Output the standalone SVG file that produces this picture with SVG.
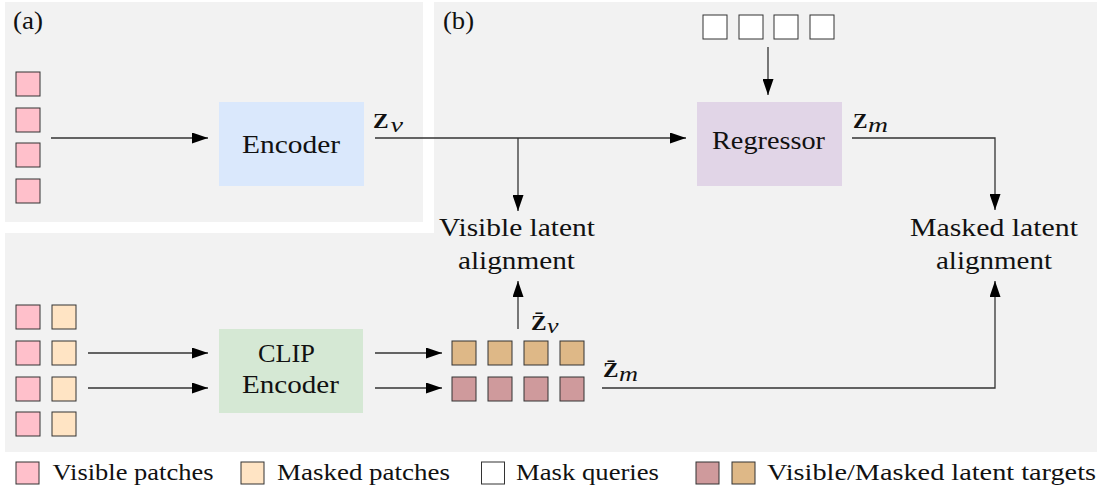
<svg xmlns="http://www.w3.org/2000/svg" width="1097" height="486" viewBox="0 0 1097 486">
  <defs>
    <style>
      .panel { fill: #f2f2f2; }
      .patch { stroke: #333333; stroke-width: 1; }
      .vis { fill: #ffc0cb; }
      .msk { fill: #ffe4c4; }
      .qry { fill: #ffffff; }
      .tgt-v { fill: #deb887; }
      .tgt-m { fill: #cf9a9c; }
      .wire { fill: none; stroke: #333333; stroke-width: 1.3; }
      .txt { font-family: "Liberation Serif", "Times New Roman", serif; font-size: 25px; fill: #111111; }
      .leg { font-family: "Liberation Serif", "Times New Roman", serif; font-size: 23px; fill: #111111; }
      .mz { font-family: "Liberation Serif", "Times New Roman", serif; font-size: 20px; font-weight: bold; fill: #111111; }
      .ms { font-family: "Liberation Serif", "Times New Roman", serif; font-size: 20px; font-style: italic; fill: #111111; }
    </style>
    <marker id="arrow" markerUnits="userSpaceOnUse" markerWidth="16" markerHeight="11" refX="16" refY="5.5" orient="auto">
      <path d="M0,0 L16,5.5 L0,11 Z" fill="#000000"/>
    </marker>
  </defs>

  <!-- background panels -->
  <g id="panels">
    <rect class="panel" x="5" y="2" width="418" height="220"/>
    <path class="panel" d="M434,2 H1097 V452 H5 V233 H434 Z"/>
    <text class="txt" x="13" y="29" textLength="30" lengthAdjust="spacingAndGlyphs">(a)</text>
    <text class="txt" x="443" y="29" textLength="31" lengthAdjust="spacingAndGlyphs">(b)</text>
  </g>

  <!-- visible input patches of the student branch -->
  <g id="visible-patches">
    <rect class="patch vis" x="16" y="72" width="24" height="24"/>
    <rect class="patch vis" x="16" y="108" width="24" height="24"/>
    <rect class="patch vis" x="16" y="143" width="24" height="24"/>
    <rect class="patch vis" x="16" y="179" width="24" height="24"/>
  </g>

  <g id="encoder">
    <rect x="219" y="102" width="145" height="84" fill="#dae8fc"/>
    <text class="txt" x="242" y="153" textLength="98" lengthAdjust="spacingAndGlyphs">Encoder</text>
  </g>

  <g id="mask-queries">
    <rect class="patch qry" x="703" y="15" width="24" height="24"/>
    <rect class="patch qry" x="739" y="15" width="24" height="24"/>
    <rect class="patch qry" x="774" y="15" width="24" height="24"/>
    <rect class="patch qry" x="810" y="15" width="24" height="24"/>
  </g>

  <g id="regressor">
    <rect x="697" y="102" width="145" height="84" fill="#e1d5e7"/>
    <text class="txt" x="712" y="149" textLength="113" lengthAdjust="spacingAndGlyphs">Regressor</text>
  </g>

  <g id="visible-alignment">
    <text class="txt" x="439" y="236" textLength="156" lengthAdjust="spacingAndGlyphs">Visible latent</text>
    <text class="txt" x="458" y="269" textLength="117" lengthAdjust="spacingAndGlyphs">alignment</text>
  </g>

  <g id="masked-alignment">
    <text class="txt" x="910" y="236" textLength="168" lengthAdjust="spacingAndGlyphs">Masked latent</text>
    <text class="txt" x="936" y="269" textLength="116" lengthAdjust="spacingAndGlyphs">alignment</text>
  </g>

  <!-- full image patches of the teacher branch -->
  <g id="all-patches">
    <rect class="patch vis" x="16" y="305" width="24" height="24"/>
    <rect class="patch vis" x="16" y="341" width="24" height="24"/>
    <rect class="patch vis" x="16" y="377" width="24" height="24"/>
    <rect class="patch vis" x="16" y="412" width="24" height="24"/>
    <rect class="patch msk" x="52" y="305" width="24" height="24"/>
    <rect class="patch msk" x="52" y="341" width="24" height="24"/>
    <rect class="patch msk" x="52" y="377" width="24" height="24"/>
    <rect class="patch msk" x="52" y="412" width="24" height="24"/>
  </g>

  <g id="clip-encoder">
    <rect x="219" y="329" width="144" height="84" fill="#d5e8d4"/>
    <text class="txt" x="258" y="362" textLength="57" lengthAdjust="spacingAndGlyphs">CLIP</text>
    <text class="txt" x="242" y="393" textLength="97" lengthAdjust="spacingAndGlyphs">Encoder</text>
  </g>

  <g id="latent-targets">
    <rect class="patch tgt-v" x="452" y="341" width="24" height="24"/>
    <rect class="patch tgt-v" x="488" y="341" width="24" height="24"/>
    <rect class="patch tgt-v" x="524" y="341" width="24" height="24"/>
    <rect class="patch tgt-v" x="560" y="341" width="24" height="24"/>
    <rect class="patch tgt-m" x="452" y="377" width="24" height="24"/>
    <rect class="patch tgt-m" x="488" y="377" width="24" height="24"/>
    <rect class="patch tgt-m" x="524" y="377" width="24" height="24"/>
    <rect class="patch tgt-m" x="560" y="377" width="24" height="24"/>
  </g>

  <!-- connectors -->
  <g id="connectors">
    <path class="wire" d="M51,138 H208" marker-end="url(#arrow)"/>
    <path class="wire" d="M375,138 H686" marker-end="url(#arrow)"/>
    <path class="wire" d="M518,138 V211" marker-end="url(#arrow)"/>
    <path class="wire" d="M768,47 V95" marker-end="url(#arrow)"/>
    <path class="wire" d="M852,138 H995 V210" marker-end="url(#arrow)"/>
    <path class="wire" d="M518,329 V281" marker-end="url(#arrow)"/>
    <path class="wire" d="M602,388 H995 V281" marker-end="url(#arrow)"/>
    <path class="wire" d="M88,353 H208" marker-end="url(#arrow)"/>
    <path class="wire" d="M88,388 H208" marker-end="url(#arrow)"/>
    <path class="wire" d="M375,353 H442" marker-end="url(#arrow)"/>
    <path class="wire" d="M375,388 H442" marker-end="url(#arrow)"/>
  </g>

  <!-- connector labels -->
  <g id="labels">
    <text class="mz" x="373" y="128" textLength="15.6" lengthAdjust="spacingAndGlyphs">Z</text>
    <text class="ms" x="390.5" y="132" textLength="12.5" lengthAdjust="spacingAndGlyphs">v</text>
    <text class="mz" x="853" y="128" textLength="14.5" lengthAdjust="spacingAndGlyphs">Z</text>
    <text class="ms" x="868" y="131.5" textLength="20" lengthAdjust="spacingAndGlyphs">m</text>
    <text class="mz" x="531" y="329.5" textLength="15.6" lengthAdjust="spacingAndGlyphs">Z̄</text>
    <text class="ms" x="547" y="332.5" textLength="11.5" lengthAdjust="spacingAndGlyphs">v</text>
    <text class="mz" x="603" y="377" textLength="15.5" lengthAdjust="spacingAndGlyphs">Z̄</text>
    <text class="ms" x="619" y="380.5" textLength="19" lengthAdjust="spacingAndGlyphs">m</text>
  </g>

  <!-- legend -->
  <g id="legend">
    <rect class="patch vis" x="16" y="462" width="23" height="22"/>
    <text class="leg" x="52.5" y="480" textLength="161" lengthAdjust="spacingAndGlyphs">Visible patches</text>
    <rect class="patch msk" x="241" y="462" width="23" height="22"/>
    <text class="leg" x="277" y="480" textLength="173" lengthAdjust="spacingAndGlyphs">Masked patches</text>
    <rect class="patch qry" x="481.5" y="462" width="23" height="22"/>
    <text class="leg" x="516" y="480" textLength="143" lengthAdjust="spacingAndGlyphs">Mask queries</text>
    <rect class="patch tgt-m" x="696" y="462" width="23" height="22"/>
    <rect class="patch tgt-v" x="732" y="462" width="23" height="22"/>
    <text class="leg" x="767" y="480" textLength="329" lengthAdjust="spacingAndGlyphs">Visible/Masked latent targets</text>
  </g>
</svg>
